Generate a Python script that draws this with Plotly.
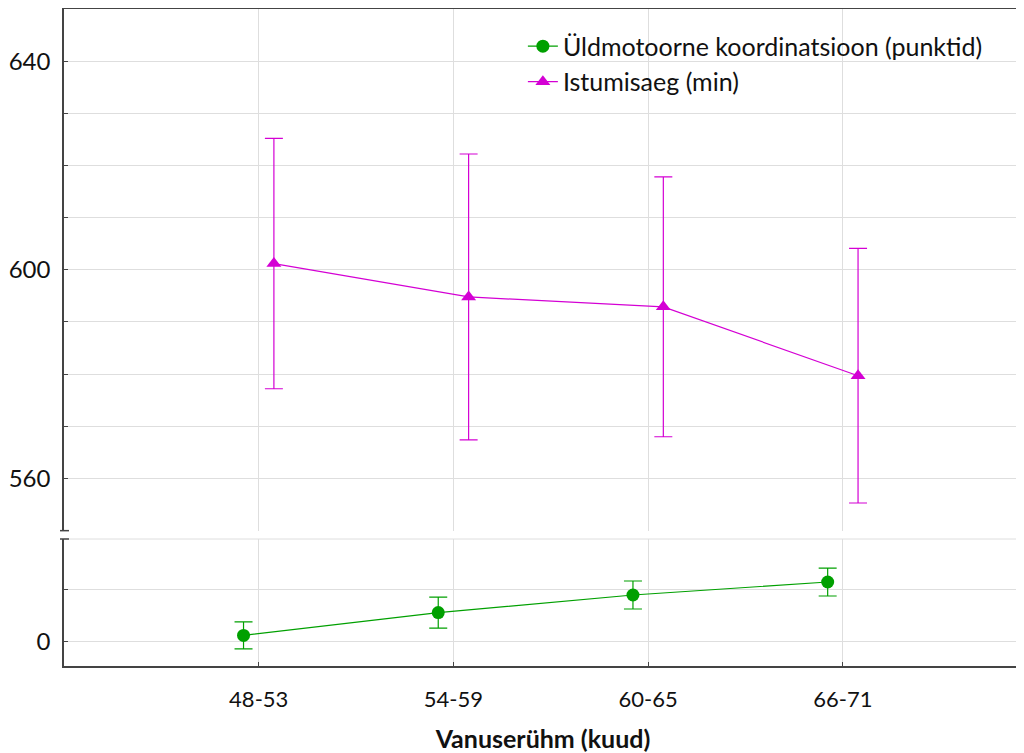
import numpy as np
import plotly.graph_objects as go

categories = ["48-53", "54-59", "60-65", "66-71"]
motor_mean = [1.1, 5.5, 8.9, 11.4]
motor_err = [2.6, 3.0, 2.7, 2.7]
sitting_mean = [601.2, 594.8, 592.9, 579.7]
sitting_err = [24.0, 27.4, 24.9, 24.4]

motor_name = "Üldmotoorne koordinatsioon (punktid)"
sitting_name = "Istumisaeg (min)"

GREEN = "#00a000"
MAGENTA = "#d400d4"
AXIS = "#444444"
GRID = "#dedede"
FONT = "Lato"

idx = np.arange(len(categories))
offset = 0.078

fig = go.Figure()
fig.add_trace(go.Scatter(
    x=idx - offset, y=motor_mean, name=motor_name, mode="lines+markers",
    xaxis="x", yaxis="y",
    line=dict(color=GREEN, width=1.2),
    marker=dict(symbol="circle", size=13, color=GREEN),
    error_y=dict(type="data", array=motor_err, color=GREEN, thickness=1.2, width=9),
))
fig.add_trace(go.Scatter(
    x=idx + offset, y=sitting_mean, name=sitting_name, mode="lines+markers",
    xaxis="x2", yaxis="y2",
    line=dict(color=MAGENTA, width=1.2),
    marker=dict(symbol="triangle-up", size=13, color=MAGENTA),
    error_y=dict(type="data", array=sitting_err, color=MAGENTA, thickness=1.2, width=9),
))

xrange = [-1.0, 3.92]
low_dom = [0, 0.1933]
up_dom = [0.206, 1]

up_ticks = list(range(550, 651, 10))
up_text = [str(v) if v in (560, 600, 640) else "" for v in up_ticks]

fig.update_layout(
    width=1016, height=745,
    margin=dict(l=54, r=2, t=1, b=87),
    paper_bgcolor="white", plot_bgcolor="white",
    font=dict(family=FONT, size=22, color="#111111"),
    showlegend=True,
    legend=dict(x=0.479, y=0.978, xanchor="left", yanchor="top",
                bgcolor="rgba(0,0,0,0)", font=dict(size=25), tracegroupgap=0),
    xaxis=dict(
        domain=[0, 1], anchor="y", range=xrange,
        tickvals=list(idx), ticktext=categories,
        showgrid=True, gridcolor=GRID, gridwidth=1,
        showline=True, linecolor=AXIS, linewidth=1.5,
        ticks="inside", ticklen=4, tickcolor=AXIS,
        ticklabelstandoff=13, zeroline=False, tickfont=dict(size=22),
        title=dict(text="<b>Vanuserühm (kuud)</b>", font=dict(size=25), standoff=20),
    ),
    xaxis2=dict(
        domain=[0, 1], anchor="y2", range=xrange, side="top",
        tickvals=list(idx), showticklabels=False,
        showgrid=True, gridcolor=GRID, gridwidth=1,
        showline=True, linecolor=AXIS, linewidth=1.5,
        ticks="", zeroline=False,
    ),
    yaxis=dict(
        domain=low_dom, anchor="x", range=[-4.8, 19.7],
        tickvals=[0, 10], ticktext=["0", ""],
        showgrid=True, gridcolor=GRID, gridwidth=1,
        showline=True, linecolor=AXIS, linewidth=1.5,
        ticks="inside", ticklen=4, tickcolor=AXIS,
        ticklabelstandoff=7, zeroline=False, tickfont=dict(size=24),
    ),
    yaxis2=dict(
        domain=up_dom, anchor="x2", range=[550, 650],
        tickvals=up_ticks, ticktext=up_text,
        showgrid=True, gridcolor=GRID, gridwidth=1,
        showline=True, linecolor=AXIS, linewidth=1.5,
        ticks="inside", ticklen=4, tickcolor=AXIS,
        ticklabelstandoff=7, zeroline=False, tickfont=dict(size=24),
    ),
)

# axis-break caps
cap = dict(type="line", xref="paper", line=dict(color=AXIS, width=1.5))
fig.add_shape(**cap, x0=-4 / 960, x1=5 / 960, yref="paper", y0=up_dom[0], y1=up_dom[0])
fig.add_shape(**cap, x0=-4 / 960, x1=5 / 960, yref="paper", y0=low_dom[1], y1=low_dom[1])
# gridline at the top edge of the lower panel
fig.add_shape(type="line", xref="paper", x0=0, x1=1, yref="paper",
              y0=low_dom[1], y1=low_dom[1], line=dict(color=GRID, width=1), layer="below")

fig.write_html("out.html")
